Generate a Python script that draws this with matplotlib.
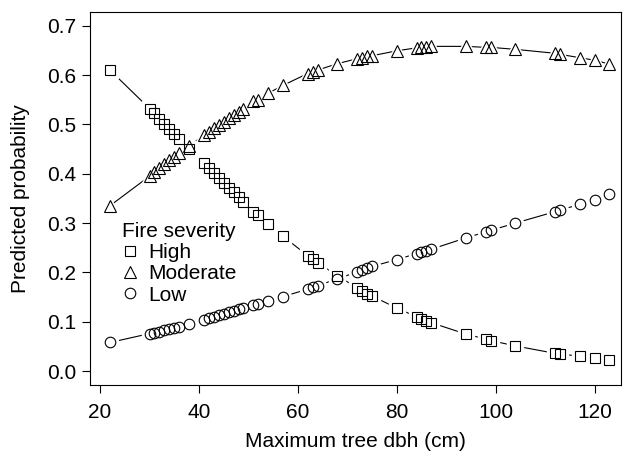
import matplotlib.pyplot as plt
from matplotlib.lines import Line2D

plt.rcParams['font.family'] = ['Liberation Sans', 'DejaVu Sans']

# maximum tree dbh (cm) for each predicted point
dbh = [22, 30, 31, 32, 33, 34, 35, 36, 38, 41, 42, 43, 44, 45, 46, 47, 48, 49,
       51, 52, 54, 57, 62, 63, 64, 68, 72, 73, 74, 75, 80, 84, 85, 86, 87,
       94, 98, 99, 104, 112, 113, 117, 120, 123]

high = [0.610, 0.532, 0.522, 0.511, 0.501, 0.491, 0.481, 0.471, 0.451,
        0.421, 0.411, 0.401, 0.392, 0.382, 0.372, 0.362, 0.353, 0.343,
        0.323, 0.317, 0.298, 0.273, 0.234, 0.227, 0.220, 0.193,
        0.169, 0.163, 0.157, 0.152, 0.128, 0.110, 0.106, 0.102, 0.098,
        0.075, 0.065, 0.062, 0.051, 0.036, 0.035, 0.030, 0.026, 0.023]

moderate = [0.335, 0.395, 0.403, 0.412, 0.419, 0.427, 0.434, 0.442, 0.456,
            0.478, 0.485, 0.492, 0.498, 0.505, 0.512, 0.519, 0.525, 0.532,
            0.547, 0.550, 0.563, 0.579, 0.603, 0.606, 0.610, 0.623,
            0.633, 0.635, 0.638, 0.639, 0.649, 0.655, 0.656, 0.657, 0.658,
            0.658, 0.656, 0.656, 0.652, 0.644, 0.642, 0.635, 0.630, 0.622]

low = [0.058, 0.076, 0.078, 0.080, 0.083, 0.085, 0.088, 0.090, 0.096,
       0.104, 0.107, 0.110, 0.113, 0.116, 0.119, 0.122, 0.125, 0.128,
       0.133, 0.136, 0.142, 0.151, 0.166, 0.170, 0.173, 0.187,
       0.201, 0.205, 0.208, 0.212, 0.226, 0.238, 0.241, 0.244, 0.247,
       0.270, 0.282, 0.285, 0.300, 0.323, 0.326, 0.338, 0.347, 0.358]

series = [("High", high, "s", 7.2), ("Moderate", moderate, "^", 8.8),
          ("Low", low, "o", 7.6)]

fig = plt.figure(figsize=(6.27, 4.55), dpi=100)
ax = fig.add_axes([0.1435, 0.154, 0.8465, 0.8200])

# R type="b": line with gaps around the points
for name, vals, m, ms in series:
    ax.plot(dbh, vals, color="black", linewidth=0.8, zorder=2)
    ax.plot(dbh, vals, linestyle="none", marker=m, markersize=ms + 4,
            markerfacecolor="white", markeredgecolor="white", zorder=3)
for name, vals, m, ms in series:
    ax.plot(dbh, vals, linestyle="none", marker=m, markersize=ms,
            markerfacecolor="none", markeredgecolor="black",
            markeredgewidth=0.8, zorder=4)

ax.set_xlim(17.96, 125.3)
ax.set_ylim(-0.028, 0.728)
ax.set_xticks([20, 40, 60, 80, 100, 120])
ax.set_yticks([0.0, 0.1, 0.2, 0.3, 0.4, 0.5, 0.6, 0.7])
ax.set_yticklabels(["0.0", "0.1", "0.2", "0.3", "0.4", "0.5", "0.6", "0.7"])
ax.tick_params(direction="out", length=6, width=0.8, labelsize=15, pad=4)
ax.tick_params(axis="x", pad=7)
for s in ax.spines.values():
    s.set_linewidth(0.8)
ax.set_xlabel("Maximum tree dbh (cm)", fontsize=15, labelpad=7)
ax.set_ylabel("Predicted probability", fontsize=15, labelpad=12)

handles = [Line2D([], [], linestyle="none", marker=m, markersize=ms,
                  markerfacecolor="none", markeredgecolor="black",
                  markeredgewidth=0.8) for name, vals, m, ms in series]
leg = ax.legend(handles, [s[0] for s in series], title="Fire severity",
                loc="upper left", bbox_to_anchor=(0.032, 0.475), frameon=False,
                fontsize=15, title_fontsize=15, handlelength=0.8,
                handletextpad=0.5, labelspacing=0.1, borderpad=0.2)
leg._legend_box.align = "left"

fig.savefig("out.png", dpi=100)
